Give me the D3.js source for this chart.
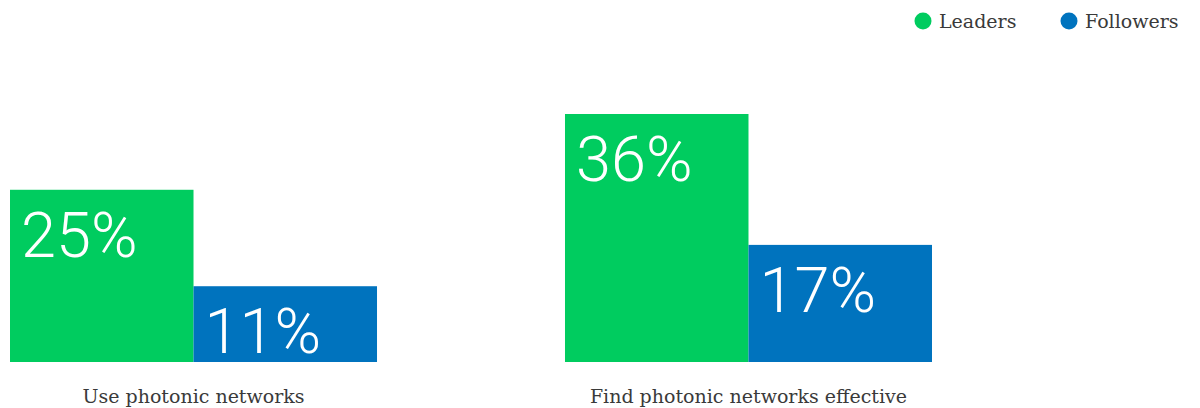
<!DOCTYPE html>
<html>
<head>
<meta charset="utf-8">
<script src="https://cdn.jsdelivr.net/npm/d3@7/dist/d3.min.js"></script>
<style>
  html, body { margin: 0; padding: 0; background: #fff; }
  svg { display: block; }
  .cat { font-family: "DejaVu Serif", serif; font-size: 19px; fill: #3a3a3a; }
  .val { font-family: "Roboto", sans-serif; font-weight: 300; font-size: 63px; fill: #fff; }
  .leg { font-family: "DejaVu Serif", serif; font-size: 19px; fill: #3a3a3a; }
</style>
</head>
<body>
<svg id="chart" width="1200" height="408"></svg>
<script>
// Survey results: share of respondents, leaders vs followers
const categories = ["Use photonic networks", "Find photonic networks effective"];
const seriesNames = ["Leaders", "Followers"];
const leaders = [25, 36];
const followers = [11, 17];
const colors = ["#00cc5f", "#0073be"];

const svg = d3.select("#chart");
const baseline = 362;

const x0 = d3.scaleBand().domain(categories).range([10, 932]).paddingInner(0.3387).paddingOuter(0);
const x1 = d3.scaleBand().domain(seriesNames).range([0, x0.bandwidth()]);
const y = d3.scaleLinear().domain([0, 36]).range([baseline, baseline - 248]);
const color = d3.scaleOrdinal().domain(seriesNames).range(colors);

const rows = categories.map((c, i) => ({
  category: c,
  values: [
    { series: "Leaders", value: leaders[i] },
    { series: "Followers", value: followers[i] }
  ]
}));

const groups = svg.selectAll("g.group")
  .data(rows)
  .join("g")
  .attr("class", "group")
  .attr("transform", d => `translate(${x0(d.category)},0)`);

const bars = groups.selectAll("g.bar")
  .data(d => d.values)
  .join("g")
  .attr("class", "bar");

bars.append("rect")
  .attr("x", d => x1(d.series))
  .attr("y", d => y(d.value))
  .attr("width", x1.bandwidth())
  .attr("height", d => baseline - y(d.value))
  .attr("fill", d => color(d.series));

// Value label inside the top-left corner of each bar
bars.append("text")
  .attr("class", "val")
  .attr("x", d => x1(d.series) + 11)
  .attr("y", d => Math.min(y(d.value) + 67, baseline - 7))
  .text(d => d.value + "%");

// Category labels under each group
svg.selectAll("text.cat")
  .data(categories)
  .join("text")
  .attr("class", "cat")
  .attr("x", d => x0(d) + x0.bandwidth() / 2)
  .attr("y", 403)
  .attr("text-anchor", "middle")
  .text(d => d);

// Legend, top right
const legendX = d3.scaleOrdinal().domain(seriesNames).range([923, 1069]);
const legend = svg.selectAll("g.legend")
  .data(seriesNames)
  .join("g")
  .attr("class", "legend")
  .attr("transform", d => `translate(${legendX(d)},21)`);

legend.append("circle")
  .attr("r", 8.5)
  .attr("fill", d => color(d));

legend.append("text")
  .attr("class", "leg")
  .attr("x", 16)
  .attr("y", 7)
  .text(d => d);
</script>
</body>
</html>
